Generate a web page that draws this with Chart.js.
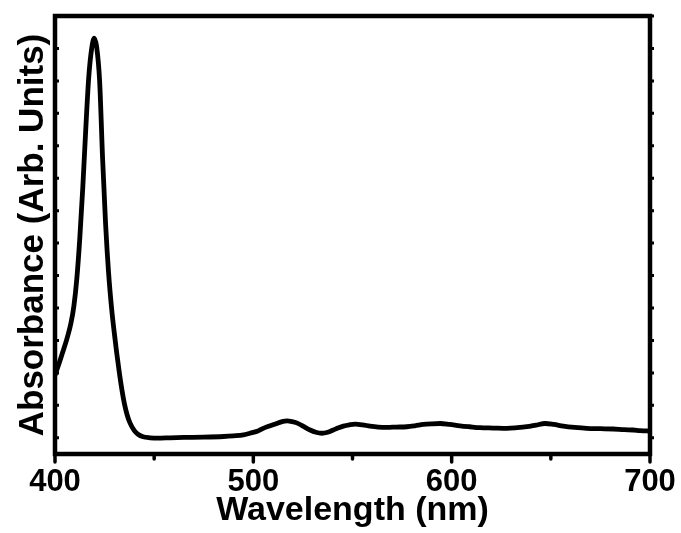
<!DOCTYPE html>
<html>
<head>
<meta charset="utf-8">
<script src="https://cdn.jsdelivr.net/npm/chart.js@4/dist/chart.umd.min.js"></script>
<style>
html,body{margin:0;padding:0;background:#fff;}
#wrap{width:681px;height:533px;position:relative;}
canvas{display:block;}
</style>
</head>
<body>
<div id="wrap"><canvas id="c" width="681" height="533"></canvas></div>
<script>
// ---- data ----
const wavelengths = [
  400, 402, 404, 406, 408, 409.5, 411, 412.5, 414, 415.5,
  417, 418.5, 419.8, 421, 422.5, 424, 425.5, 427, 428.6, 430,
  431.1, 432.5, 433.6, 435, 436.5, 437.8, 440, 442, 444.4, 448,
  452, 458, 465, 475, 485, 490, 495, 498.3, 502, 505,
  508.5, 511.8, 514.5, 517.1, 519.5, 521.9, 525, 528.6, 531.5, 534.5,
  537.5, 540.3, 543, 545.4, 548.5, 551.3, 555, 558.8, 563, 567.3,
  572, 577.4, 581.5, 585.7, 590, 594.2, 599, 604.2, 609, 614.3,
  621, 627.8, 633, 637.9, 642.5, 647.1, 651.5, 656.3, 662, 668.1,
  675, 681.5, 687, 691.6, 695, 698.4, 700
];
const absorbance = [
  0.193, 0.228, 0.266, 0.305, 0.352, 0.405, 0.490, 0.615, 0.770, 0.950,
  1.110, 1.200, 1.232, 1.205, 1.100, 0.860, 0.660, 0.510, 0.395, 0.318,
  0.262, 0.198, 0.153, 0.105, 0.068, 0.046, 0.022, 0.010, 0.003, 0.000,
  -0.001, 0.000, 0.001, 0.002, 0.004, 0.006, 0.009, 0.014, 0.020, 0.029,
  0.037, 0.044, 0.050, 0.052, 0.050, 0.046, 0.036, 0.024, 0.017, 0.014,
  0.017, 0.024, 0.031, 0.036, 0.040, 0.042, 0.040, 0.036, 0.033, 0.032,
  0.033, 0.034, 0.037, 0.041, 0.043, 0.044, 0.041, 0.037, 0.034, 0.031,
  0.030, 0.029, 0.031, 0.034, 0.039, 0.044, 0.041, 0.036, 0.032, 0.029,
  0.028, 0.027, 0.025, 0.024, 0.022, 0.021, 0.020
];
const xTickValues = [400, 450, 500, 550, 600, 650, 700];
const xTickLabels = ['400', '', '500', '', '600', '', '700'];
const yTickValues = [0, 0.1, 0.2, 0.3, 0.4, 0.5, 0.6, 0.7, 0.8, 0.9, 1.0, 1.1, 1.2, 1.3];
const xTitle = 'Wavelength (nm)';
const yTitle = 'Absorbance (Arb. Units)';

const FONT = '"Liberation Sans", Arial, Helvetica, sans-serif';

const framePlugin = {
  id: 'frame',
  afterDraw(chart) {
    const ctx = chart.ctx;
    const a = chart.chartArea;
    const xs = chart.scales.x, ys = chart.scales.y;
    ctx.save();
    ctx.strokeStyle = '#000';
    // x ticks (outward)
    ctx.lineWidth = 3.5;
    ctx.lineCap = 'round';
    xTickValues.forEach((v, i) => {
      const px = xs.getPixelForValue(v);
      const len = xTickLabels[i] ? 8 : 5;
      ctx.beginPath();
      ctx.moveTo(px, a.bottom);
      ctx.lineTo(px, a.bottom + len);
      ctx.stroke();
    });
    // y ticks: left inward, right outward
    ctx.lineWidth = 3;
    ctx.lineCap = 'butt';
    yTickValues.forEach(v => {
      const py = ys.getPixelForValue(v);
      ctx.beginPath();
      ctx.moveTo(a.left, py); ctx.lineTo(a.left + 4, py);
      ctx.moveTo(a.right, py); ctx.lineTo(a.right + 4, py);
      ctx.stroke();
    });
    // frame
    ctx.lineWidth = 4.5;
    ctx.lineJoin = 'miter';
    ctx.lineCap = 'butt';
    ctx.strokeRect(a.left, a.top, a.right - a.left, a.bottom - a.top);
    ctx.restore();
  }
};

new Chart(document.getElementById('c'), {
  type: 'scatter',
  data: {
    datasets: [{
      data: wavelengths.map((w, i) => ({ x: w, y: absorbance[i] })),
      showLine: true,
      borderColor: '#000',
      borderWidth: 4.8,
      pointRadius: 0,
      pointHoverRadius: 0,
      cubicInterpolationMode: 'monotone',
      fill: false
    }]
  },
  options: {
    responsive: false,
    devicePixelRatio: 1,
    animation: false,
    events: [],
    layout: { padding: { top: 16, right: 31, left: 0, bottom: 0 } },
    plugins: { legend: { display: false }, tooltip: { enabled: false } },
    scales: {
      x: {
        type: 'linear',
        min: 400, max: 700,
        afterBuildTicks: s => { s.ticks = xTickValues.map(v => ({ value: v })); },
        afterFit: s => { s.height = 79; s.paddingLeft = 0; s.paddingRight = 0; },
        grid: { display: false, drawTicks: false },
        border: { display: false },
        ticks: {
          color: '#000',
          padding: 10,
          maxRotation: 0,
          autoSkip: false,
          font: { family: FONT, size: 31, weight: 'bold' },
          callback: (v, i) => xTickLabels[i]
        },
        title: {
          display: true,
          text: xTitle,
          color: '#000',
          font: { family: FONT, size: 34, weight: 'bold' },
          padding: { top: 0, bottom: 2 }
        }
      },
      y: {
        type: 'linear',
        min: -0.05, max: 1.3,
        afterBuildTicks: s => { s.ticks = yTickValues.map(v => ({ value: v })); },
        afterFit: s => { s.width = 55; s.paddingTop = 0; s.paddingBottom = 0; },
        grid: { display: false, drawTicks: false },
        border: { display: false },
        ticks: { display: false },
        title: {
          display: true,
          text: yTitle,
          color: '#000',
          font: { family: FONT, size: 35, weight: 'bold' },
          padding: { top: 12, bottom: 0 }
        }
      }
    }
  },
  plugins: [framePlugin]
});
</script>
</body>
</html>
